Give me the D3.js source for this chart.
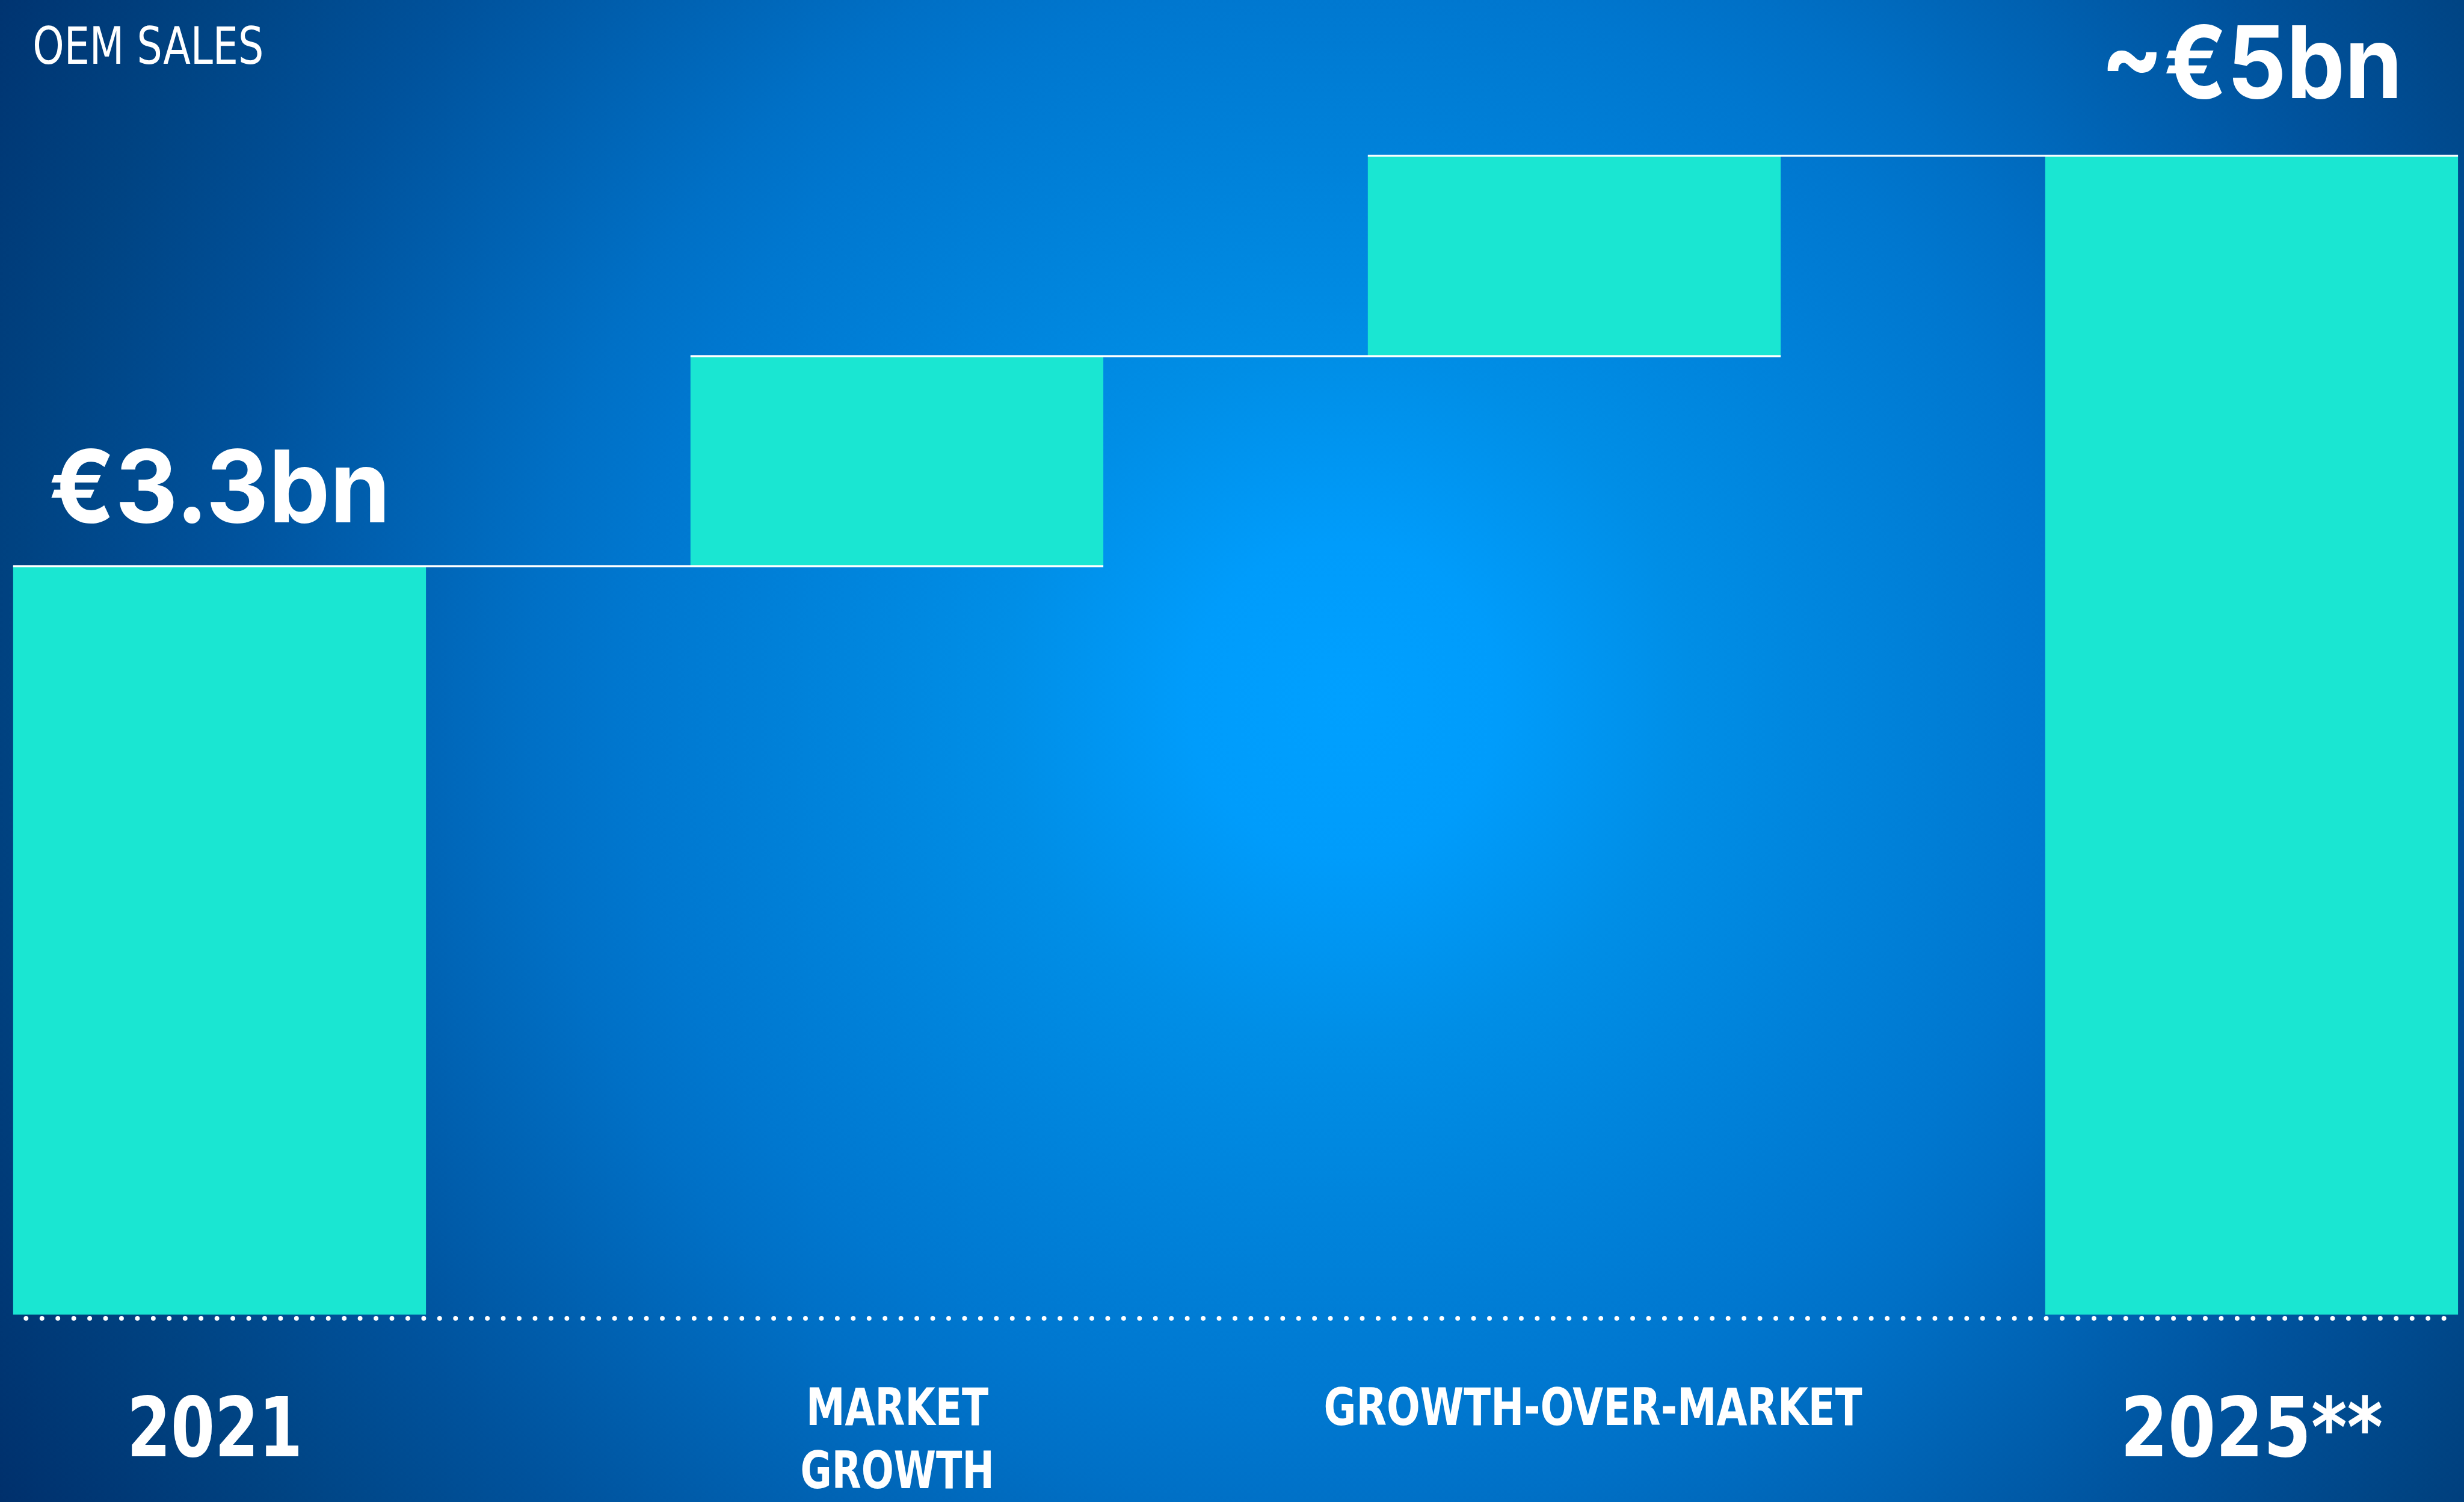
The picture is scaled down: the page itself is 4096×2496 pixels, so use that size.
<!DOCTYPE html>
<html>
<head>
<meta charset="utf-8">
<script src="https://cdn.jsdelivr.net/npm/d3@7"></script>
<style>
  html, body { margin: 0; padding: 0; background: #003070; overflow: hidden; }
  svg { display: block; }
</style>
</head>
<body>
<svg id="chart"></svg>
<script>
// ---- data -------------------------------------------------------------
const title = "OEM SALES";
const categories = ["2021", "MARKET GROWTH", "GROWTH-OVER-MARKET", "2025"];
const barTypes = ["total", "step", "step", "total"];
const barValues = [3.3, 0.87, 0.83, 5.0];           // € bn
const valueLabels = ["€3.3bn", null, null, "~€5bn"];
const categoryLines = [["2021"], ["MARKET", "GROWTH"], ["GROWTH-OVER-MARKET"], ["2025"]];
const footnoteMarks = ["", "", "", "**"];

// ---- layout (drawing units; scaled to the window by the viewBox) ------
const W = 6196, H = 3775;
const outW = 4096, outH = 2496;
const plotLeft = 33, plotRight = 6181;
const plotTop = 391.5, plotBottom = 3304;
const baselineY = 3313;

const barColor = "#1ae6d2";
const condensed = "'Liberation Sans Narrow', 'Arial Narrow', 'DejaVu Sans Condensed', sans-serif";
const geometric = "Inter, 'Open Sans', Lato, sans-serif";

// target widths of each piece of text
const textWidths = {
  "OEM SALES": 581, "€3.3bn": 859, "~€5bn": 759,
  "2021": 442, "2025**": 660,
  "MARKET": 459, "GROWTH": 487.5, "GROWTH-OVER-MARKET": 1354
};
const valueLabelRise = [110, 0, 0, 145];
const categoryDx = [-12, 1, 47, 0];

// ---- svg --------------------------------------------------------------
const svg = d3.select("#chart")
  .attr("width", outW).attr("height", outH)
  .attr("viewBox", `0 0 ${W} ${H}`)
  .attr("preserveAspectRatio", "none");

// radial backdrop
const defs = svg.append("defs");
const grad = defs.append("radialGradient")
  .attr("id", "bg").attr("gradientUnits", "userSpaceOnUse")
  .attr("cx", 3380).attr("cy", 1760).attr("r", 3935);
[
  [0.00, "#00a0ff"], [0.10, "#009cfb"], [0.22, "#008ee6"],
  [0.46, "#0077cf"], [0.52, "#0070c6"], [0.72, "#00529c"],
  [0.85, "#004382"], [1.00, "#00306c"]
].forEach(([o, c]) => grad.append("stop").attr("offset", o).attr("stop-color", c));

svg.append("rect").attr("width", W).attr("height", H).attr("fill", "url(#bg)");

// ---- scales -----------------------------------------------------------
const x = d3.scaleBand()
  .domain(categories)
  .range([plotLeft, plotRight])
  .paddingInner(0.3905)
  .paddingOuter(0);

const y = d3.scaleLinear()
  .domain([0.2, 5])
  .range([plotBottom, plotTop]);

// waterfall segments
let running = 0;
const bars = categories.map((c, i) => {
  let lo, hi;
  if (barTypes[i] === "total") { lo = y.domain()[0]; hi = barValues[i]; running = hi; }
  else { lo = running; hi = running + barValues[i]; running = hi; }
  return { category: c, i, lo, hi };
});

// bars
svg.append("g").selectAll("rect")
  .data(bars).join("rect")
  .attr("x", d => x(d.category))
  .attr("width", x.bandwidth())
  .attr("y", d => y(d.hi))
  .attr("height", d => y(d.lo) - y(d.hi))
  .attr("fill", barColor);

// connector lines between consecutive bars
const connectors = d3.pairs(bars).map(([a, b]) => ({
  x1: x(a.category), x2: x(b.category) + x.bandwidth(),
  level: b.lo === y.domain()[0] ? b.hi : a.hi
}));
svg.append("g").selectAll("line")
  .data(connectors).join("line")
  .attr("x1", d => d.x1).attr("x2", d => d.x2)
  .attr("y1", d => y(d.level)).attr("y2", d => y(d.level))
  .attr("stroke", "#ffffff").attr("stroke-width", 5);

// dotted baseline from the category axis
const axis = svg.append("g")
  .attr("transform", `translate(0,${baselineY})`)
  .call(d3.axisBottom(x).tickSize(0).tickSizeOuter(0).tickFormat(() => ""));
axis.select(".domain")
  .attr("stroke", "#ffffff")
  .attr("stroke-width", 12)
  .attr("stroke-linecap", "round")
  .attr("stroke-dasharray", "0 40")
  .attr("stroke-dashoffset", 8);
axis.selectAll(".tick").remove();

// ---- text -------------------------------------------------------------
function fit(sel, str) {
  if (textWidths[str]) sel.attr("textLength", textWidths[str]).attr("lengthAdjust", "spacingAndGlyphs");
  return sel;
}

// title
fit(svg.append("text")
  .attr("x", 82).attr("y", 161)
  .attr("font-family", condensed).attr("font-size", 130).attr("font-weight", 400)
  .attr("fill", "#ffffff").text(title), title);

// value labels
bars.forEach(d => {
  const lbl = valueLabels[d.i];
  if (!lbl) return;
  fit(svg.append("text")
    .attr("x", x(d.category) + x.bandwidth() / 2)
    .attr("y", y(d.hi) - valueLabelRise[d.i])
    .attr("text-anchor", "middle")
    .attr("font-family", geometric).attr("font-size", 252).attr("font-weight", 700)
    .attr("fill", "#ffffff").text(lbl), lbl);
});

// category labels
bars.forEach(d => {
  const cx = x(d.category) + x.bandwidth() / 2 + categoryDx[d.i];
  const big = barTypes[d.i] === "total";
  const size = big ? 208 : 128;
  const firstBase = big ? 3659.5 : 3580.7;
  categoryLines[d.i].forEach((line, k) => {
    const str = k === 0 ? line + footnoteMarks[d.i] : line;
    fit(svg.append("text")
      .attr("x", cx).attr("y", firstBase + k * 160)
      .attr("text-anchor", "middle")
      .attr("font-family", condensed).attr("font-size", size).attr("font-weight", 700)
      .attr("fill", "#ffffff").text(str), str);
  });
});
</script>
</body>
</html>
